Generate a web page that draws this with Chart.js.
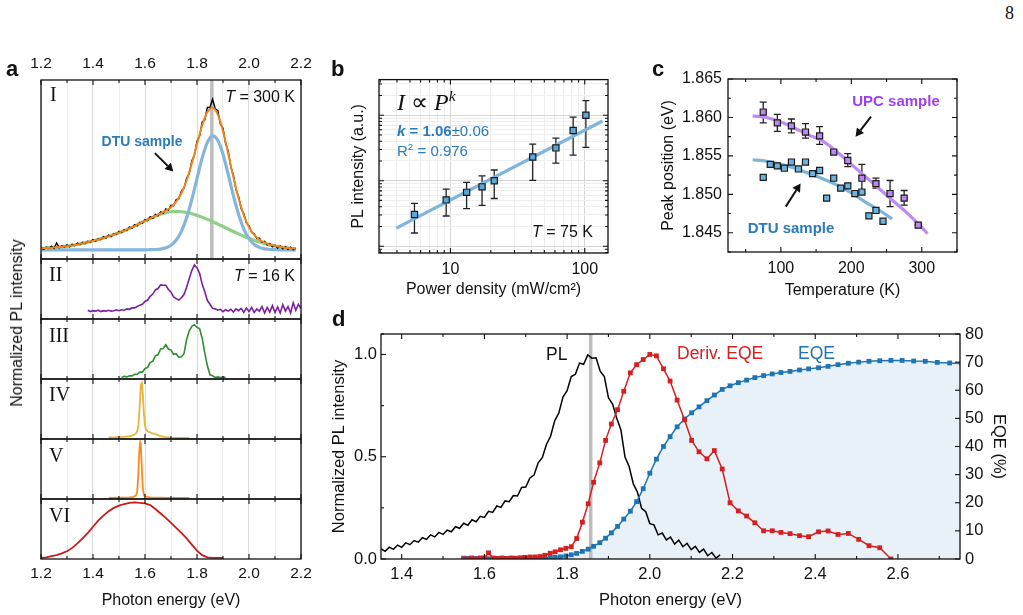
<!DOCTYPE html>
<html>
<head>
<meta charset="utf-8">
<script src="https://cdn.jsdelivr.net/npm/chart.js@4.4.1/dist/chart.umd.min.js"></script>
<style>
  html, body { margin: 0; padding: 0; background: #fff; }
  body { width: 1023px; height: 615px; position: relative; overflow: hidden;
         font-family: "Liberation Sans", Arial, sans-serif; color: #111; }
  canvas { position: absolute; }
  .n { position: absolute; white-space: nowrap; line-height: 1; z-index: 5; }
  .n sup { font-size: 65%; position: relative; top: -0.55em; vertical-align: 0; line-height: 0; }
</style>
</head>
<body>
<script>
// ---- panel a : PL spectra (photon energy in eV, intensity normalised) ----
const peakE = 1.857; // grey marker line

const eI = [1.20,1.21,1.22,1.23,1.24,1.25,1.26,1.27,1.28,1.29,
  1.30,1.31,1.32,1.33,1.34,1.35,1.36,1.37,1.38,1.39,
  1.40,1.41,1.42,1.43,1.44,1.45,1.46,1.47,1.48,1.49,
  1.50,1.51,1.52,1.53,1.54,1.55,1.56,1.57,1.58,1.59,
  1.60,1.61,1.62,1.63,1.64,1.65,1.66,1.67,1.68,1.69,
  1.70,1.71,1.72,1.73,1.74,1.75,1.76,1.77,1.78,1.79,
  1.80,1.81,1.82,1.83,1.84,1.85,1.86,1.87,1.88,1.89,
  1.90,1.91,1.92,1.93,1.94,1.95,1.96,1.97,1.98,1.99,
  2.00,2.01,2.02,2.03,2.04,2.05,2.06,2.07,2.08,2.09,
  2.10,2.11,2.12,2.13,2.14,2.15,2.16,2.17,2.18];
const plI = [0.015,0.003,0.018,0.009,0.024,0.010,0.045,0.014,0.026,0.018,
  0.032,0.020,0.036,0.027,0.044,0.034,0.049,0.040,0.056,0.049,
  0.066,0.056,0.074,0.067,0.086,0.076,0.096,0.087,0.106,0.101,
  0.121,0.112,0.132,0.126,0.148,0.140,0.165,0.157,0.180,0.173,
  0.198,0.191,0.217,0.206,0.232,0.222,0.248,0.240,0.267,0.259,
  0.291,0.288,0.328,0.333,0.384,0.402,0.468,0.497,0.580,0.618,
  0.709,0.743,0.834,0.850,0.931,0.932,0.984,0.922,0.909,0.823,
  0.795,0.694,0.646,0.542,0.488,0.393,0.347,0.269,0.235,0.176,
  0.157,0.114,0.105,0.074,0.075,0.050,0.055,0.032,0.041,0.020,
  0.031,0.010,0.025,0.006,0.020,0.003,0.017,0.000,0.011];

const eFit = [1.20,1.22,1.24,1.26,1.28,1.30,1.32,1.34,1.36,1.38,
  1.40,1.42,1.44,1.46,1.48,1.50,1.52,1.54,1.56,1.58,
  1.60,1.62,1.64,1.66,1.68,1.70,1.72,1.74,1.76,1.78,
  1.80,1.82,1.84,1.86,1.88,1.90,1.92,1.94,1.96,1.98,
  2.00,2.02,2.04,2.06,2.08,2.10,2.12,2.14,2.16,2.18];
const fitSum = [0.010,0.012,0.014,0.017,0.020,0.024,0.029,0.035,0.042,0.050,
  0.058,0.067,0.077,0.088,0.100,0.112,0.125,0.140,0.155,0.172,
  0.189,0.206,0.222,0.238,0.256,0.279,0.315,0.370,0.453,0.564,
  0.691,0.814,0.901,0.929,0.884,0.777,0.630,0.474,0.335,0.225,
  0.148,0.097,0.067,0.047,0.034,0.026,0.019,0.014,0.010,0.007];
const fitNarrow = [0,0,0,0,0,0,0,0,0,0,
  0,0,0,0,0,0,0,0,0,0,
  0.000,0.001,0.002,0.005,0.013,0.030,0.064,0.121,0.209,0.328,
  0.466,0.601,0.702,0.745,0.716,0.625,0.494,0.354,0.231,0.136,
  0.073,0.035,0.016,0.006,0.002,0.001,0,0,0,0];
const fitBroad = [0.010,0.012,0.014,0.017,0.020,0.024,0.029,0.035,0.042,0.050,
  0.058,0.067,0.077,0.088,0.100,0.112,0.125,0.140,0.155,0.172,
  0.189,0.205,0.220,0.233,0.243,0.249,0.251,0.249,0.244,0.236,
  0.225,0.213,0.199,0.184,0.168,0.152,0.136,0.120,0.104,0.089,
  0.075,0.062,0.051,0.041,0.032,0.025,0.019,0.014,0.010,0.007];

const eII = [1.38,1.39,1.40,1.41,1.42,1.43,1.44,1.45,1.46,1.47,
  1.48,1.49,1.50,1.51,1.52,1.53,1.54,1.55,1.56,1.57,
  1.58,1.59,1.60,1.61,1.62,1.63,1.64,1.65,1.66,1.67,
  1.68,1.69,1.70,1.71,1.72,1.73,1.74,1.75,1.76,1.77,
  1.78,1.79,1.80,1.81,1.82,1.83,1.84,1.85,1.86,1.87,
  1.88,1.89,1.90,1.91,1.92,1.93,1.94,1.95,1.96,1.97,
  1.98,1.99,2.00,2.01,2.02,2.03,2.04,2.05,2.06,2.07,
  2.08,2.09,2.10,2.11,2.12,2.13,2.14,2.15,2.16,2.17,
  2.18,2.19,2.20];
const plII = [0.02,-0.01,0.01,0.00,0.02,-0.01,0.01,0.00,0.02,0.00,
  0.01,0.03,0.01,0.03,0.02,0.05,0.04,0.07,0.07,0.10,
  0.13,0.15,0.21,0.24,0.32,0.37,0.46,0.49,0.57,0.56,
  0.56,0.47,0.41,0.31,0.27,0.24,0.29,0.36,0.52,0.70,
  0.88,1.00,0.94,0.82,0.58,0.42,0.23,0.15,0.06,0.05,
  0.02,0.04,-0.01,0.03,0.00,0.04,-0.02,0.05,0.01,0.06,
  -0.03,0.07,-0.01,0.08,-0.03,0.05,0.00,0.10,-0.04,0.08,
  -0.02,0.12,-0.03,0.09,-0.04,0.14,0.00,0.10,-0.04,0.18,
  0.02,0.15,0.05];

const eIII = [1.51,1.52,1.53,1.54,1.55,1.56,1.57,1.58,1.59,1.60,
  1.61,1.62,1.63,1.64,1.65,1.66,1.67,1.68,1.69,1.70,
  1.71,1.72,1.73,1.74,1.75,1.76,1.77,1.78,1.79,1.80,
  1.81,1.82,1.83,1.84,1.85,1.86,1.87,1.88,1.89,1.90,1.91];
const plIII = [0.00,0.02,0.01,0.03,0.03,0.06,0.06,0.10,0.10,0.17,
  0.19,0.28,0.31,0.41,0.43,0.54,0.55,0.62,0.54,0.52,
  0.44,0.45,0.38,0.39,0.45,0.72,0.88,0.97,1.00,0.95,
  0.93,0.74,0.46,0.22,0.05,0.03,0.00,0.01,0.00,0.01,0.00];

const eIV = [1.46,1.48,1.50,1.52,1.54,1.55,1.56,1.565,1.57,1.575,
  1.58,1.584,1.588,1.592,1.596,1.60,1.605,1.61,1.62,1.63,
  1.64,1.65,1.66,1.68,1.70,1.72,1.74,1.77];
const plIV = [0.01,0.01,0.015,0.02,0.03,0.04,0.06,0.08,0.12,0.25,
  0.60,0.97,1.00,0.78,0.42,0.22,0.15,0.12,0.10,0.08,
  0.07,0.05,0.03,0.015,0.005,0,0,0];

const eV = [1.46,1.50,1.54,1.555,1.565,1.570,1.574,1.578,1.581,1.584,
  1.588,1.592,1.597,1.605,1.62,1.66,1.70,1.77];
const plV = [0.0,0.005,0.01,0.02,0.04,0.12,0.40,0.85,1.00,0.92,
  0.52,0.15,0.04,0.02,0.01,0.005,0.0,0.0];

const eVI = [1.20,1.22,1.24,1.26,1.28,1.30,1.32,1.34,1.36,1.38,
  1.40,1.42,1.44,1.46,1.48,1.50,1.52,1.54,1.56,1.58,
  1.60,1.62,1.64,1.66,1.68,1.70,1.72,1.74,1.76,1.78,
  1.80,1.82,1.84,1.86,1.88,1.90];
const plVI = [0.00,0.01,0.03,0.05,0.08,0.12,0.18,0.26,0.35,0.45,
  0.56,0.67,0.76,0.84,0.90,0.94,0.97,0.99,1.00,0.99,
  0.98,0.95,0.88,0.80,0.72,0.63,0.54,0.45,0.35,0.24,
  0.13,0.05,0.01,0.00,0.00,0.00];

// ---- panel b : power dependence at 75 K ----
const power = [5.4, 9.3, 13.2, 17.2, 21.2, 41, 61, 82, 102];
const intensity = [0.305, 0.509, 0.664, 0.806, 1.0, 2.30, 3.17, 5.86, 10.0];
const intensityLo = [0.159, 0.289, 0.375, 0.421, 0.535, 1.01, 1.85, 2.46, 3.23];
const intensityHi = [0.451, 0.743, 0.944, 1.186, 1.456, 3.63, 4.46, 9.34, 16.7];
const fitPower = [3.96, 135.5];
const fitIntensity = [0.189, 8.15];
const bTicksP = [3,4,5,6,7,8,9,10,20,30,40,50,60,70,80,90,100];
const bTicksI = [0.08,0.09,0.1,0.2,0.3,0.4,0.5,0.6,0.7,0.8,0.9,1,2,3,4,5,6,7,8,9,10,20,30];

// ---- panel c : peak position vs temperature ----
const upcT = [75, 95, 115, 135, 155, 175, 195, 215, 235, 255, 275, 295];
const upcPeak = [1.8607, 1.8593, 1.8589, 1.8581, 1.8576, 1.8555, 1.8544, 1.8521, 1.8514, 1.8501, 1.8495, 1.8460];
const upcLo = [1.8593, 1.8582, 1.8580, 1.8573, 1.8565, 1.8553, 1.8536, 1.8501, 1.8508, 1.8484, 1.8486, 1.8459];
const upcHi = [1.8620, 1.8604, 1.8598, 1.8592, 1.8588, 1.8557, 1.8553, 1.8539, 1.8521, 1.8518, 1.8505, 1.8461];
const dtuT = [75, 85, 95, 105, 115, 125, 135, 145, 155, 165, 175, 185, 195, 205, 215, 225, 235, 245];
const dtuPeak = [1.8522, 1.8539, 1.8537, 1.8534, 1.8542, 1.8533, 1.8542, 1.8527, 1.8531, 1.8495,
  1.8521, 1.8508, 1.8511, 1.8501, 1.8503, 1.8472, 1.8479, 1.8465];
const upcFitT = [60, 80, 100, 120, 140, 160, 180, 200, 220, 240, 260, 280, 300, 308];
const upcFit = [1.8602, 1.8600, 1.8594, 1.8586, 1.8577, 1.8569, 1.8555, 1.8539, 1.8523, 1.8507, 1.8491, 1.8475, 1.8457, 1.8449];
const dtuFitT = [60, 80, 100, 120, 140, 160, 180, 200, 220, 240, 258];
const dtuFit = [1.8545, 1.8543, 1.8539, 1.8534, 1.8527, 1.8520, 1.8512, 1.8502, 1.8490, 1.8479, 1.8468];

// ---- panel d : PL vs EQE ----
const plE = [1.35,1.36,1.37,1.38,1.39,1.40,1.41,1.42,1.43,1.44,
  1.45,1.46,1.47,1.48,1.49,1.50,1.51,1.52,1.53,1.54,
  1.55,1.56,1.57,1.58,1.59,1.60,1.61,1.62,1.63,1.64,
  1.65,1.66,1.67,1.68,1.69,1.70,1.71,1.72,1.73,1.74,
  1.75,1.76,1.77,1.78,1.79,1.80,1.81,1.82,1.83,1.84,
  1.85,1.86,1.87,1.88,1.89,1.90,1.91,1.92,1.93,1.94,
  1.95,1.96,1.97,1.98,1.99,2.00,2.01,2.02,2.03,2.04,
  2.05,2.06,2.07,2.08,2.09,2.10,2.11,2.12,2.13,2.14,
  2.15,2.16,2.17];
const plD = [0.050,0.038,0.058,0.047,0.068,0.057,0.079,0.070,0.090,0.082,
  0.104,0.096,0.118,0.108,0.130,0.120,0.141,0.133,0.158,0.150,
  0.175,0.165,0.192,0.182,0.209,0.203,0.233,0.228,0.259,0.252,
  0.284,0.280,0.310,0.308,0.350,0.352,0.396,0.410,0.470,0.495,
  0.560,0.600,0.676,0.714,0.792,0.823,0.892,0.903,0.958,0.952,
  0.998,0.982,0.984,0.918,0.892,0.788,0.757,0.688,0.632,0.498,
  0.452,0.368,0.327,0.248,0.232,0.173,0.167,0.118,0.127,0.093,
  0.107,0.073,0.092,0.060,0.077,0.046,0.062,0.032,0.048,0.016,
  0.032,0.004,0.020];
const eqeE = [1.550,1.560,1.569,1.579,1.590,1.600,1.610,1.621,1.631,1.642,
  1.653,1.664,1.675,1.687,1.698,1.710,1.722,1.734,1.746,1.759,
  1.771,1.784,1.797,1.810,1.823,1.837,1.851,1.864,1.879,1.893,
  1.907,1.922,1.937,1.953,1.968,1.984,2.000,2.016,2.033,2.049,
  2.066,2.084,2.101,2.119,2.138,2.156,2.175,2.194,2.214,2.234,
  2.254,2.275,2.296,2.317,2.339,2.362,2.384,2.408,2.431,2.455,
  2.480,2.505,2.530,2.556,2.583,2.610,2.638,2.666,2.695,2.725,2.755];
const eqe = [0.3,0.2,0.2,0.2,0.1, 0.1,0.1,0.1,0.1,0.1,
  0.1,0.1,0.1,0.2,0.2, 0.2,0.3,0.3,0.4,0.5,
  0.6,0.8,1.1,1.5,2.0, 2.7,3.5,4.5,5.8,7.4,
  9.3,11.6,14.2,17.0,20.4, 25.0,30.5,35.5,40.0,43.5,
  47.0,49.8,52.0,54.1,56.3, 58.3,60.3,61.6,62.7,63.6,
  64.5,65.2,65.8,66.3,66.7, 67.2,67.6,68.0,68.5,69.1,
  69.6,70.0,70.3,70.5,70.6, 70.6,70.4,70.3,69.9,69.7, 69.5];
const derivEqe = [0.0,0.0,0.005,0.0,0.005, 0.005,0.03,0.005,0.003,0.005,
  0.003,0.005,0.004,0.006,0.008, 0.01,0.01,0.012,0.018,0.028,
  0.035,0.045,0.052,0.06,0.10, 0.18,0.27,0.375,0.47,0.58,
  0.66,0.73,0.82,0.91,0.95, 0.975,1.0,0.993,0.93,0.87,
  0.777,0.68,0.58,0.524,0.49, 0.53,0.44,0.275,0.235,0.21,
  0.177,0.138,0.138,0.13,0.124, 0.114,0.109,0.133,0.137,0.12,
  0.125,0.096,0.065,0.055,0.0];
const dTicksE = [1.4,1.5,1.6,1.7,1.8,1.9,2.0,2.1,2.2,2.3,2.4,2.5,2.6,2.7];

// ---------------------------------------------------------------
Chart.defaults.font.family = "'Liberation Sans', Arial, sans-serif";
Chart.defaults.font.size = 16;
Chart.defaults.color = '#111';
Chart.defaults.animation = false;
Chart.defaults.events = [];
Chart.defaults.devicePixelRatio = 1;
Chart.defaults.elements.point.radius = 0;
Chart.defaults.plugins.legend.display = false;
Chart.defaults.plugins.tooltip.enabled = false;

const xy = (xs, ys) => ys.map((v, i) => ({ x: xs[i], y: v }));
const near = (v, step) => Math.abs(v / step - Math.round(v / step)) < 1e-6;
const isDecade = v => near(Math.log10(v), 1);
// fixed axis sizes, no extra room for overhanging end labels
const fixH = h => s => { s.height = h; s.paddingLeft = 0; s.paddingRight = 0; };
const fixW = w => s => { s.width = w; s.paddingTop = 0; s.paddingBottom = 0; };

function canvasAt(left, top, w, h) {
  const c = document.createElement('canvas');
  c.width = w; c.height = h;
  c.style.left = left + 'px'; c.style.top = top + 'px';
  c.style.width = w + 'px'; c.style.height = h + 'px';
  document.body.appendChild(c);
  return c.getContext('2d');
}

// black box round the plot area with inward tick marks
function frame(marks) {
  return {
    id: 'frame',
    afterDraw(chart) {
      const { ctx, chartArea: a } = chart;
      ctx.save();
      ctx.strokeStyle = '#111';
      ctx.lineWidth = 1.1;
      marks.forEach(m => {
        const s = chart.scales[m.scale];
        s.ticks.forEach(t => {
          const big = m.log ? isDecade(t.value) : near(t.value, m.major);
          const len = big ? 5 : 3;
          const p = s.getPixelForValue(t.value);
          ctx.beginPath();
          m.sides.forEach(side => {
            if (side === 'top') { ctx.moveTo(p, a.top); ctx.lineTo(p, a.top + len); }
            if (side === 'bottom') { ctx.moveTo(p, a.bottom); ctx.lineTo(p, a.bottom - len); }
            if (side === 'left') { ctx.moveTo(a.left, p); ctx.lineTo(a.left + len, p); }
            if (side === 'right') { ctx.moveTo(a.right, p); ctx.lineTo(a.right - len, p); }
          });
          ctx.stroke();
        });
      });
      ctx.lineWidth = 1.3;
      ctx.strokeRect(a.left, a.top, a.right - a.left, a.bottom - a.top);
      ctx.restore();
    }
  };
}

function errBars(sets) {
  return {
    id: 'errbars',
    beforeDatasetsDraw(chart) {
      const { ctx, scales: { x, y } } = chart;
      ctx.save();
      ctx.strokeStyle = '#222';
      ctx.lineWidth = 1.3;
      sets.forEach(s => {
        s.xs.forEach((xv, i) => {
          const px = x.getPixelForValue(xv);
          const p1 = y.getPixelForValue(s.lo[i]);
          const p2 = y.getPixelForValue(s.hi[i]);
          ctx.beginPath();
          ctx.moveTo(px, p1); ctx.lineTo(px, p2);
          ctx.moveTo(px - 3.5, p1); ctx.lineTo(px + 3.5, p1);
          ctx.moveTo(px - 3.5, p2); ctx.lineTo(px + 3.5, p2);
          ctx.stroke();
        });
      });
      ctx.restore();
    }
  };
}

function arrows(list) {
  return {
    id: 'arrows',
    afterDatasetsDraw(chart) {
      const { ctx, scales: { x, y } } = chart;
      ctx.save();
      ctx.strokeStyle = '#111';
      ctx.fillStyle = '#111';
      ctx.lineWidth = 2;
      list.forEach(a => {
        const x1 = x.getPixelForValue(a.from[0]), y1 = y.getPixelForValue(a.from[1]);
        const x2 = x.getPixelForValue(a.to[0]), y2 = y.getPixelForValue(a.to[1]);
        const ang = Math.atan2(y2 - y1, x2 - x1);
        const hl = 8, hw = 4.5;
        const bx = x2 - hl * Math.cos(ang), by = y2 - hl * Math.sin(ang);
        ctx.beginPath(); ctx.moveTo(x1, y1); ctx.lineTo(bx, by); ctx.stroke();
        ctx.beginPath();
        ctx.moveTo(x2, y2);
        ctx.lineTo(bx + hw * Math.sin(ang), by - hw * Math.cos(ang));
        ctx.lineTo(bx - hw * Math.sin(ang), by + hw * Math.cos(ang));
        ctx.closePath(); ctx.fill();
      });
      ctx.restore();
    }
  };
}

function line(data, color, width, extra) {
  return Object.assign({ data, borderColor: color, borderWidth: width, pointRadius: 0, fill: false }, extra || {});
}

// ---- panel a : six stacked spectra ----
function specChart(top, h, yMin, yMax, datasets, axis, plugins) {
  const axisH = axis === 'top' ? 30 : axis === 'bottom' ? 55 : 0;
  const cTop = axis === 'top' ? top - 30 : top - 1;
  const cH = axis === 'top' ? 30 + h + 1 : axis === 'bottom' ? 1 + h + 55 : h + 2;
  new Chart(canvasAt(0, cTop, 322, cH), {
    type: 'line',
    data: { datasets },
    options: {
      responsive: false,
      layout: { padding: { left: 41, right: 21, top: axis === 'top' ? 0 : 1, bottom: axis === 'bottom' ? 0 : 1 } },
      scales: {
        x: {
          type: 'linear', position: axis === 'top' ? 'top' : 'bottom', min: 1.2, max: 2.2,
          afterFit: fixH(axisH),
          border: { display: false },
          grid: { drawTicks: false, color: c => near(c.tick.value, 0.2) ? '#dcdcdc' : '#ededed' },
          ticks: { display: axis !== 'none', stepSize: 0.1, padding: axis === 'top' ? 6.5 : 5.5,
                   autoSkip: false, maxRotation: 0, font: { size: 15.5 },
                   callback: v => near(v, 0.2) ? v.toFixed(1) : '' },
          title: { display: axis === 'bottom', text: 'Photon energy (eV)', padding: { top: 0, bottom: 4 } }
        },
        y: { display: false, min: yMin, max: yMax }
      }
    },
    plugins: [frame([{ scale: 'x', major: 0.2, sides: ['top', 'bottom'] }])].concat(plugins || [])
  });
}

specChart(80, 179, -0.06, 1.11, [
  line(xy(eFit, fitSum), '#f0841e', 2, { cubicInterpolationMode: 'monotone' }),
  line(xy(eI, plI), '#000', 1.4),
  line(xy(eFit, fitNarrow), '#84b6dc', 3.2, { cubicInterpolationMode: 'monotone' }),
  line(xy(eFit, fitBroad), '#90cf86', 3.2, { cubicInterpolationMode: 'monotone' }),
  line([{ x: peakE, y: -0.06 }, { x: peakE, y: 1.11 }], '#bdbdbd', 3.5)
], 'top', [arrows([{ from: [1.638, 0.632], to: [1.709, 0.512] }])]);
specChart(259, 60, -0.17, 1.13, [line(xy(eII, plII), '#7b1fa2', 1.6)], 'none');
specChart(319, 60, -0.03, 1.11, [line(xy(eIII, plIII), '#2e8f2e', 1.6)], 'none');
specChart(379, 60, -0.02, 1.07, [line(xy(eIV, plIV), '#e9b43c', 1.8)], 'none');
specChart(439, 60, -0.02, 1.07, [line(xy(eV, plV), '#ff8a1c', 1.8)], 'none');
specChart(499, 60, -0.02, 1.06, [line(xy(eVI, plVI), '#cc1a1a', 1.8)], 'bottom');

// ---- panel b ----
new Chart(canvasAt(340, 74, 275, 225), {
  type: 'line',
  data: {
    datasets: [
      { data: xy(power, intensity), showLine: false, pointStyle: 'rect', pointRadius: 4.4,
        pointBackgroundColor: '#5ea6d8', pointBorderColor: '#1a1a1a', pointBorderWidth: 1.2 },
      line(xy(fitPower, fitIntensity), '#7fb4dc', 3.2)
    ]
  },
  options: {
    responsive: false,
    layout: { padding: { top: 1, right: 7, left: 0, bottom: 0 } },
    scales: {
      x: {
        type: 'logarithmic', min: 2.94, max: 149,
        afterBuildTicks: s => { s.ticks = bTicksP.map(v => ({ value: v })); },
        afterFit: fixH(46),
        border: { display: false },
        grid: { drawTicks: false, color: c => isDecade(c.tick.value) ? '#d6d6d6' : '#eeeeee' },
        ticks: { padding: 6.5, autoSkip: false, maxRotation: 0,
                 callback: v => (v === 10 || v === 100) ? String(v) : '' },
        title: { display: true, text: 'Power density (mW/cm²)', padding: { top: 0, bottom: 0 } }
      },
      y: {
        type: 'logarithmic', min: 0.0787, max: 35,
        afterBuildTicks: s => { s.ticks = bTicksI.map(v => ({ value: v })); },
        afterFit: fixW(39),
        border: { display: false },
        grid: { drawTicks: false, color: c => isDecade(c.tick.value) ? '#d6d6d6' : '#eeeeee' },
        ticks: { display: false },
        title: { display: true, text: 'PL intensity (a.u.)', padding: { top: 8.5, bottom: 0 } }
      }
    }
  },
  plugins: [
    frame([{ scale: 'x', log: true, sides: ['top', 'bottom'] }, { scale: 'y', log: true, sides: ['left', 'right'] }]),
    errBars([{ xs: power, lo: intensityLo, hi: intensityHi }])
  ]
});

// ---- panel c ----
new Chart(canvasAt(640, 60, 383, 240), {
  type: 'line',
  data: {
    datasets: [
      { data: xy(upcT, upcPeak), showLine: false, pointStyle: 'rect', pointRadius: 4.3,
        pointBackgroundColor: '#b88af0', pointBorderColor: '#1a1a1a', pointBorderWidth: 1.2 },
      { data: xy(dtuT, dtuPeak), showLine: false, pointStyle: 'rect', pointRadius: 4.3,
        pointBackgroundColor: '#6cb2de', pointBorderColor: '#1a1a1a', pointBorderWidth: 1.2 },
      line(xy(upcFitT, upcFit), '#c08af5', 3.2, { cubicInterpolationMode: 'monotone' }),
      line(xy(dtuFitT, dtuFit), '#7fb4da', 3.2, { cubicInterpolationMode: 'monotone' })
    ]
  },
  options: {
    responsive: false,
    layout: { padding: { top: 19, right: 66, left: 0, bottom: 0 } },
    scales: {
      x: {
        type: 'linear', min: 25, max: 350,
        afterFit: fixH(48),
        border: { display: false }, grid: { display: false, drawTicks: false },
        ticks: { stepSize: 50, padding: 7, autoSkip: false, maxRotation: 0, includeBounds: false,
                 callback: v => near(v, 100) ? String(v) : '' },
        title: { display: true, text: 'Temperature (K)', padding: { top: 0, bottom: 0 } }
      },
      y: {
        type: 'linear', min: 1.8425, max: 1.865,
        afterFit: fixW(88),
        border: { display: false }, grid: { display: false, drawTicks: false },
        ticks: { stepSize: 0.0025, padding: 6, autoSkip: false, includeBounds: false,
                 callback: v => near(v, 0.005) ? v.toFixed(3) : '' },
        title: { display: true, text: 'Peak position (eV)', padding: { top: 18.5, bottom: 0 } }
      }
    }
  },
  plugins: [
    frame([{ scale: 'x', major: 100, sides: ['top', 'bottom'] }, { scale: 'y', major: 0.005, sides: ['left', 'right'] }]),
    errBars([{ xs: upcT, lo: upcLo, hi: upcHi }]),
    arrows([{ from: [228, 1.8601], to: [206, 1.8575] }, { from: [107, 1.8484], to: [128, 1.8514] }])
  ]
});

// ---- panel d ----
new Chart(canvasAt(330, 320, 693, 295), {
  type: 'line',
  data: {
    datasets: [
      line(xy(eqeE, derivEqe), '#d42020', 1.5,
        { pointStyle: 'rect', pointRadius: 3.4, pointBackgroundColor: '#d42020', pointBorderWidth: 0 }),
      line(xy(eqeE, eqe), '#1f74b4', 1.5,
        { yAxisID: 'y1', pointStyle: 'rect', pointRadius: 3.4, pointBackgroundColor: '#1f74b4',
          pointBorderWidth: 0, fill: 'origin', backgroundColor: '#e8f0f8' }),
      line(xy(plE, plD), '#000', 1.5),
      line([{ x: peakE, y: 0 }, { x: peakE, y: 1.1 }], '#bdbdbd', 3.5)
    ]
  },
  options: {
    responsive: false,
    layout: { padding: { top: 14, right: 0, left: 0, bottom: 0 } },
    plugins: { filler: { drawTime: 'beforeDatasetsDraw' } },
    scales: {
      x: {
        type: 'linear', min: 1.35, max: 2.75,
        afterBuildTicks: s => { s.ticks = dTicksE.map(v => ({ value: v })); },
        afterFit: fixH(56),
        border: { display: false }, grid: { display: false, drawTicks: false },
        ticks: { padding: 6, autoSkip: false, maxRotation: 0, font: { size: 16.5 },
                 callback: v => near(v, 0.2) ? v.toFixed(1) : '' },
        title: { display: true, text: 'Photon energy (eV)', font: { size: 16.5 }, padding: { top: 0, bottom: 5 } }
      },
      y: {
        type: 'linear', min: 0, max: 1.1,
        afterFit: fixW(51),
        border: { display: false }, grid: { display: false, drawTicks: false },
        ticks: { stepSize: 0.25, padding: 4, autoSkip: false, font: { size: 16.5 },
                 callback: v => near(v, 0.5) ? v.toFixed(1) : '' },
        title: { display: true, text: 'Normalized PL intensity', font: { size: 16.5 }, padding: { top: 0, bottom: 0 } }
      },
      y1: {
        type: 'linear', position: 'right', min: 0, max: 80,
        afterFit: fixW(63),
        border: { display: false }, grid: { display: false, drawTicks: false },
        ticks: { stepSize: 10, padding: 5, autoSkip: false, font: { size: 16.5 } },
        title: { display: true, text: 'EQE (%)', font: { size: 16.5 }, padding: { top: 15, bottom: 0 } }
      }
    }
  },
  plugins: [frame([
    { scale: 'x', major: 0.2, sides: ['top', 'bottom'] },
    { scale: 'y', major: 0.5, sides: ['left'] },
    { scale: 'y1', major: 10, sides: ['right'] }
  ])]
});

// ---- text ----
function note(html, x, y, style, anchor) {
  const d = document.createElement('div');
  d.className = 'n';
  d.innerHTML = html;
  d.style.cssText = 'left:' + x + 'px;top:' + y + 'px;' + style;
  const tx = anchor === 'r' ? '-100%' : (anchor === 'c' || anchor === 'v') ? '-50%' : '0';
  d.style.transform = 'translate(' + tx + ',-50%)' + (anchor === 'v' ? ' rotate(-90deg)' : '');
  document.body.appendChild(d);
}
const serif = "font-family:'Liberation Serif','Times New Roman',serif;";
const blue = 'color:#2b7bba;';

note('8', 1005, 13, serif + 'font-size:18px;', 'l');
note('a', 6, 69, 'font-size:22px;font-weight:bold;', 'l');
note('b', 331, 69, 'font-size:22px;font-weight:bold;', 'l');
note('c', 652, 69, 'font-size:22px;font-weight:bold;', 'l');
note('d', 332, 319, 'font-size:22px;font-weight:bold;', 'l');

note('I', 50, 94, serif + 'font-size:20px;', 'l');
note('II', 49, 273.5, serif + 'font-size:20px;', 'l');
note('III', 49, 335, serif + 'font-size:20px;', 'l');
note('IV', 49, 394, serif + 'font-size:20px;', 'l');
note('V', 49, 454.5, serif + 'font-size:20px;', 'l');
note('VI', 49, 514.5, serif + 'font-size:20px;', 'l');
note('<i>T</i> = 300 K', 295, 97, 'font-size:16px;', 'r');
note('<i>T</i> = 16 K', 295, 276, 'font-size:16px;', 'r');
note('DTU sample', 142, 141, 'font-size:14px;font-weight:bold;' + blue, 'c');
note('Normalized PL intensity', 17, 323, 'font-size:16px;', 'v');

note('<i>I</i> ∝ <i>P</i><sup><i>k</i></sup>', 397, 102, serif + 'font-size:24px;', 'l');
note('<b><i>k</i> = 1.06</b>±0.06', 397, 129.5, 'font-size:15px;' + blue, 'l');
note('R<sup>2</sup> = 0.976', 397, 149.5, 'font-size:15px;' + blue, 'l');
note('<i>T</i> = 75 K', 593, 232, 'font-size:16px;', 'r');

note('UPC sample', 896, 100, 'font-size:15px;font-weight:bold;color:#9b3ff0;', 'c');
note('DTU sample', 791, 227, 'font-size:15px;font-weight:bold;' + blue, 'c');

note('PL', 546, 355, 'font-size:17.5px;', 'l');
note('Deriv. EQE', 677, 354, 'font-size:17.5px;color:#d42020;', 'l');
note('EQE', 798, 354, 'font-size:17.5px;color:#1f74b4;', 'l');
</script>
</body>
</html>
